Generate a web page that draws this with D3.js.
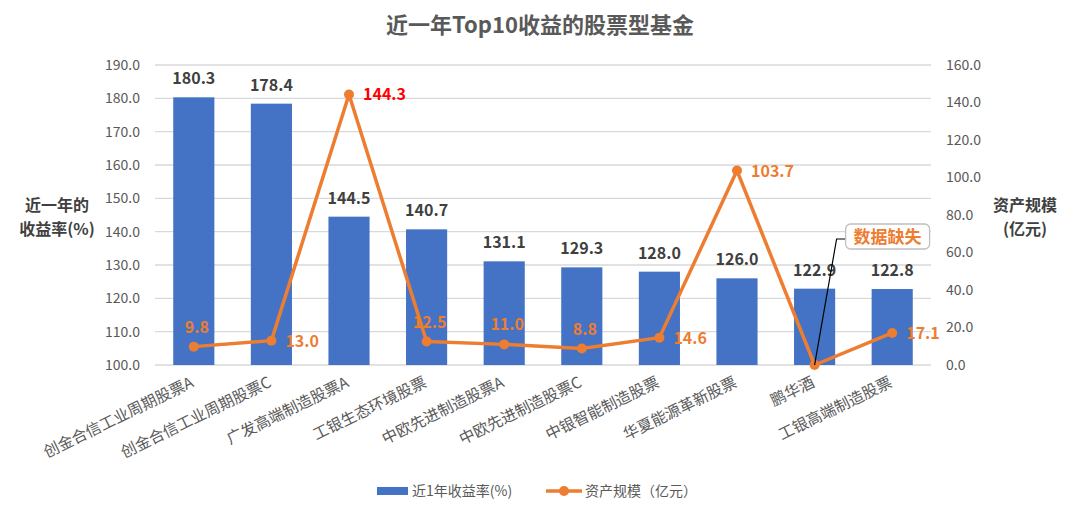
<!DOCTYPE html>
<html><head><meta charset="utf-8">
<script src="https://cdn.jsdelivr.net/npm/d3@7/dist/d3.min.js"></script>
<style>
body{margin:0;background:#fff;}
text{font-family:"Microsoft YaHei","Noto Sans CJK SC","Noto Sans",sans-serif;}
</style></head><body>
<svg id="c" width="1080" height="516"></svg>
<script>
const categories = ["创金合信工业周期股票A","创金合信工业周期股票C","广发高端制造股票A","工银生态环境股票","中欧先进制造股票A","中欧先进制造股票C","中银智能制造股票","华夏能源革新股票","鹏华酒","工银高端制造股票"];
const returns = [180.3,178.4,144.5,140.7,131.1,129.3,128.0,126.0,122.9,122.8];
const assets = [9.8,13.0,144.3,12.5,11.0,8.8,14.6,103.7,0,17.1];
const assetsLabel = ["9.8","13.0","144.3","12.5","11.0","8.8","14.6","103.7",null,"17.1"];
const labelPos = ["top","right","right","top","top","top","right","right",null,"right"];
const leftTicks = [100,110,120,130,140,150,160,170,180,190];
const rightTicks = [0,20,40,60,80,100,120,140,160];
const title = "近一年Top10收益的股票型基金";

const svg = d3.select("#c");
const L = 155, R = 931, T = 65, B = 365;
const x = d3.scaleBand().domain(categories).range([L,R]).paddingInner(0.47).paddingOuter(0.235);
const yL = d3.scaleLinear().domain([100,190]).range([B,T]);
const yR = d3.scaleLinear().domain([0,160]).range([B,T]);
const gray = "#595959";

// title
svg.append("text").attr("x",540).attr("y",33).attr("text-anchor","middle")
  .attr("font-size",22).attr("font-weight","bold").attr("fill",gray).text(title);

// gridlines
svg.append("g").selectAll("line").data(leftTicks).join("line")
  .attr("x1",L).attr("x2",R).attr("y1",d=>yL(d)).attr("y2",d=>yL(d))
  .attr("stroke","#d9d9d9").attr("stroke-width",1.3);

// left axis
const gl = svg.append("g").attr("transform",`translate(${L-7},0)`)
  .call(d3.axisLeft(yL).tickValues(leftTicks).tickFormat(d3.format(".1f")).tickSize(0).tickPadding(8));
gl.select(".domain").remove();
gl.selectAll("text").attr("font-size",14).attr("fill",gray).style("font-family",'"Microsoft YaHei","Noto Sans CJK SC",sans-serif');

// right axis
const gr = svg.append("g").attr("transform",`translate(${R+7},0)`)
  .call(d3.axisRight(yR).tickValues(rightTicks).tickFormat(d3.format(".1f")).tickSize(0).tickPadding(8));
gr.select(".domain").remove();
gr.selectAll("text").attr("font-size",14).attr("fill",gray).style("font-family",'"Microsoft YaHei","Noto Sans CJK SC",sans-serif');

// axis titles
const at = svg.append("g").attr("font-size",16).attr("font-weight","bold").attr("fill","#404040").attr("text-anchor","middle");
at.append("text").attr("x",57).attr("y",211).text("近一年的");
at.append("text").attr("x",57).attr("y",235).text("收益率(%)");
at.append("text").attr("x",1025).attr("y",211).text("资产规模");
at.append("text").attr("x",1025).attr("y",235).text("(亿元)");

// bars
svg.append("g").selectAll("rect").data(returns).join("rect")
  .attr("x",(d,i)=>x(categories[i])).attr("width",x.bandwidth())
  .attr("y",d=>yL(d)).attr("height",d=>B-yL(d)).attr("fill","#4472C4");

svg.append("g").selectAll("text").data(returns).join("text")
  .attr("x",(d,i)=>x(categories[i])+x.bandwidth()/2).attr("y",d=>yL(d)-13)
  .attr("text-anchor","middle").attr("font-size",16).attr("font-weight","bold").attr("fill","#404040")
  .text(d=>d.toFixed(1));

// x labels
svg.append("g").selectAll("text").data(categories).join("text")
  .attr("transform",(d)=>`translate(${x(d)+x.bandwidth()/2+1},${B+21}) rotate(-26)`)
  .attr("text-anchor","end").attr("font-size",15.5).attr("fill",gray).text(d=>d);

// line
const cx = i=>x(categories[i])+x.bandwidth()/2;
const line = d3.line().x((d,i)=>cx(i)).y(d=>yR(d));
svg.append("path").datum(assets).attr("d",line).attr("fill","none")
  .attr("stroke","#ED7D31").attr("stroke-width",3.5).attr("stroke-linejoin","round");
svg.append("g").selectAll("circle").data(assets).join("circle")
  .attr("cx",(d,i)=>cx(i)).attr("cy",d=>yR(d)).attr("r",5).attr("fill","#ED7D31");

const lbl = assets.map((v,i)=>({v,i,t:assetsLabel[i],p:labelPos[i]})).filter(o=>o.t!==null);
svg.append("g").selectAll("text").data(lbl).join("text")
  .attr("x",o=>o.p==="top"?cx(o.i)+3:cx(o.i)+14)
  .attr("y",o=>o.p==="top"?yR(o.v)-14:yR(o.v)+6)
  .attr("text-anchor",o=>o.p==="top"?"middle":"start")
  .attr("font-size",16).attr("font-weight","bold")
  .attr("fill",o=>o.i===2?"#FF0000":"#ED7D31")
  .text(o=>o.t);

// annotation
const ax = cx(8), ay = yR(0);
svg.append("path").attr("d",`M${ax},${ay} L${ax+22},${239} L${ax+31},${239}`)
  .attr("fill","none").attr("stroke","#000").attr("stroke-width",1.2);
svg.append("rect").attr("x",ax+31).attr("y",224).attr("width",84).attr("height",25)
  .attr("rx",5).attr("fill","#fff").attr("stroke","#bfbfbf").attr("stroke-width",1.3);
svg.append("text").attr("x",ax+73).attr("y",243).attr("text-anchor","middle")
  .attr("font-size",17).attr("font-weight","bold").attr("fill","#ED7D31").text("数据缺失");

// legend
const lg = svg.append("g").attr("font-size",14).attr("fill",gray);
lg.append("rect").attr("x",377).attr("y",487).attr("width",31).attr("height",8).attr("fill","#4472C4");
lg.append("text").attr("x",412).attr("y",496).text("近1年收益率(%)");
lg.append("line").attr("x1",546).attr("x2",582).attr("y1",491).attr("y2",491).attr("stroke","#ED7D31").attr("stroke-width",3.5);
lg.append("circle").attr("cx",564).attr("cy",491).attr("r",5).attr("fill","#ED7D31");
lg.append("text").attr("x",585).attr("y",496).text("资产规模（亿元）");
</script></body></html>
